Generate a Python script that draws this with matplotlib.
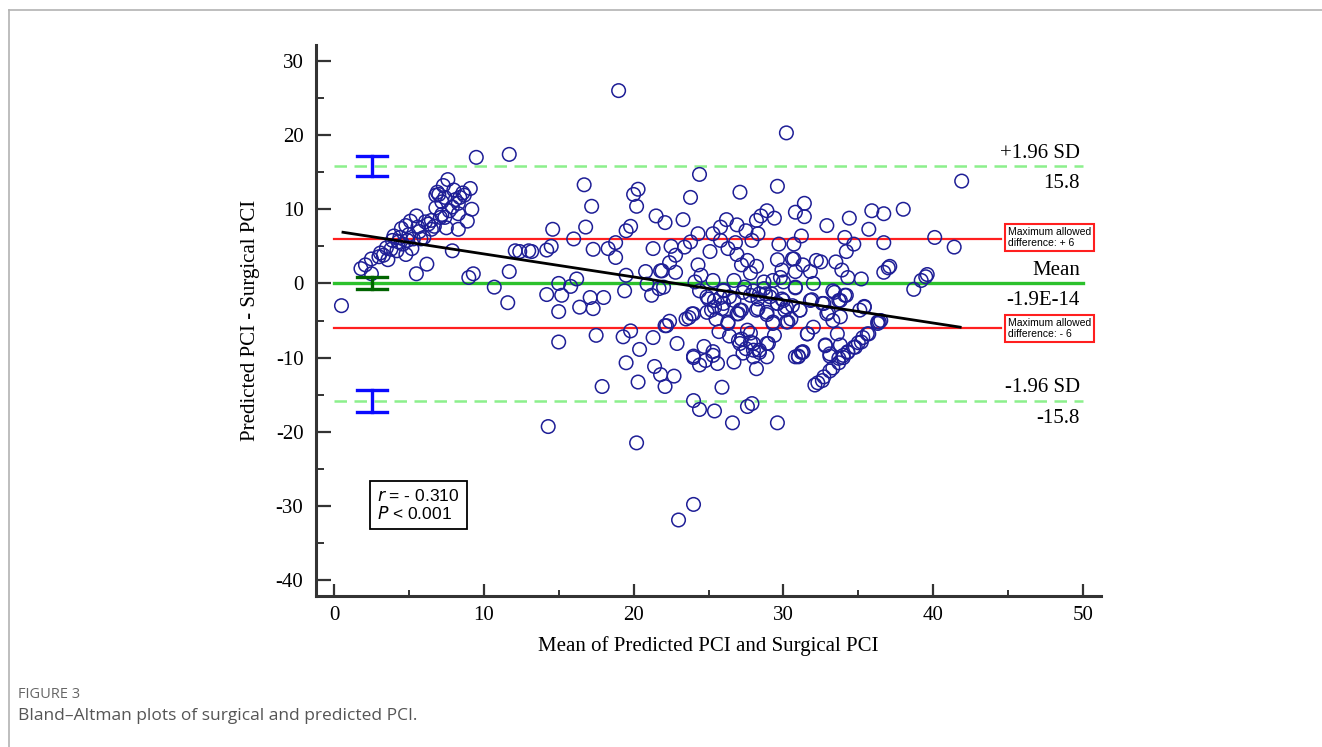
import numpy as np
import matplotlib
matplotlib.use("Agg")
import matplotlib.pyplot as plt
from matplotlib.lines import Line2D

# mean of predicted and surgical PCI (x) and difference predicted - surgical (y)
mean_pci = [
    0.5, 1.8, 2.1, 2.5, 2.5, 3.1, 3.6, 3.5, 3.9, 4.2, 4.4, 4.6, 4.8, 4.8, 5.1, 5.2, 5.5, 5.6, 5.5, 5.8,
    6.1, 6.2, 6.5, 6.7, 6.8, 6.8, 6.9, 7.1, 7.2, 7.4, 7.5, 7.3, 7.6, 7.4, 7.9, 8.0, 7.9, 8.3, 8.3, 8.4,
    8.7, 8.9, 9.1, 9.0, 9.3, 9.5, 10.7, 11.7, 11.7, 11.6, 12.1, 13.0, 4.5, 4.9, 6.5, 7.2, 8.3, 4.0, 5.3, 3.3,
    7.0, 6.0,
    19.0, 30.2, 24.4, 16.7, 29.6, 17.2, 20.0, 20.3, 20.2, 23.8, 27.1, 31.4, 30.8, 31.4, 28.9, 28.5, 28.2, 29.4,
    14.6, 16.8, 16.0, 21.5, 22.1, 23.3, 19.8, 19.5, 24.3, 23.8, 23.4, 25.8, 26.2, 26.9, 27.5, 28.3, 25.8, 26.8,
    27.9, 25.3, 31.2, 29.7, 30.7, 12.4, 13.2, 14.2, 14.5, 17.3, 18.3, 18.8, 18.8, 21.3, 22.5, 22.8, 22.4, 21.9,
    22.8, 25.1, 26.3, 26.9, 27.6, 28.2, 27.2, 27.8, 24.3, 24.5, 29.6, 29.9, 30.6, 30.8, 31.3, 31.8, 32.0, 32.2,
    20.8, 19.5, 15.0, 15.8, 16.2, 14.2, 15.2, 15.0, 16.4, 17.1, 17.3, 18.0, 19.4, 20.9, 21.7, 21.2, 23.7, 24.0,
    22.4, 22.1, 17.5, 19.3, 19.8, 21.3, 22.9, 20.4, 15.0, 24.7, 25.3, 24.0, 27.2, 27.8, 28.0, 28.4, 28.9, 29.4,
    31.3, 31.0, 32.0,
    24.4, 25.0, 25.3, 26.0, 26.7, 25.4, 25.2, 25.5, 26.3, 27.2, 27.0, 28.0, 28.3, 28.9, 29.3, 30.2, 30.0, 30.6,
    31.1, 29.2, 28.8, 29.6, 28.7, 29.3, 26.0, 25.8, 24.9, 26.7, 27.4, 28.4, 30.0, 30.8,
    41.9, 32.9, 34.4, 35.9, 36.7, 38.0, 35.7, 34.1, 34.7, 34.2, 36.7, 40.1, 41.4, 30.7, 32.5, 33.5, 33.9, 34.3,
    35.2, 30.8, 29.8, 36.7, 37.0, 37.1, 38.7, 39.2, 39.5, 39.6, 33.3, 33.8, 34.1, 32.7, 31.9, 31.1, 30.2, 30.5,
    33.0, 35.4, 35.1, 36.4, 36.3, 33.6, 35.7, 35.3, 35.0, 34.7, 34.3, 34.0, 33.7, 32.8, 33.1, 31.6, 31.2, 30.8,
    19.5, 17.9, 14.3, 20.3, 21.4, 21.8, 22.1, 22.7, 24.0, 24.4, 24.8, 25.3, 25.6, 26.7, 25.9, 24.0, 24.4, 25.4,
    27.6, 27.9, 26.6, 29.6, 20.2, 24.0, 23.0, 27.1, 27.5, 28.0, 28.4, 28.9, 28.2, 27.3, 28.0, 29.0, 26.4, 27.0,
    27.8, 31.0, 31.3, 32.8, 33.1, 33.8,
    32.1, 32.3, 32.6, 32.7, 33.1, 33.3, 33.7, 34.0, 34.3, 34.8, 35.2, 35.6, 36.3, 36.5,
    21.8, 22.0, 22.2, 23.5, 23.9, 24.1, 24.9, 25.7, 26.3, 26.9, 27.1, 27.6, 28.2, 28.9, 29.3, 29.9, 30.1, 30.3,
    31.6, 31.8, 32.6, 32.9, 33.3, 33.4, 33.7, 33.8, 34.2, 35.4, 27.3, 27.8, 28.3, 28.7, 29.1, 29.6, 26.0, 25.4,
    25.9, 26.4,
    3.0, 3.8, 4.3, 5.0, 5.7, 6.3, 7.7, 8.1, 8.6, 9.2,
]
diff_pci = [
    -3.0, 2.0, 2.5, 3.3, 1.3, 4.1, 3.2, 4.8, 5.8, 4.4, 6.2, 5.3, 7.8, 3.9, 8.4, 4.7, 9.1, 7.6, 1.3, 6.0,
    8.3, 2.6, 7.3, 7.7, 10.2, 11.9, 12.3, 8.9, 9.3, 8.9, 7.5, 13.2, 14.0, 11.6, 10.3, 12.6, 4.4, 9.4, 7.3, 11.6,
    11.9, 8.4, 12.8, 0.8, 1.3, 17.0, -0.5, 17.4, 1.6, -2.6, 4.4, 4.4, 7.4, 5.8, 8.5, 11.0, 10.8, 6.4, 6.0, 3.8,
    12.0, 6.2,
    26.0, 20.3, 14.7, 13.3, 13.1, 10.4, 12.0, 12.7, 10.4, 11.6, 12.3, 10.8, 9.6, 9.0, 9.8, 9.1, 8.5, 8.8,
    7.3, 7.6, 6.0, 9.1, 8.2, 8.6, 7.7, 7.1, 6.7, 5.6, 4.9, 7.6, 8.6, 7.9, 7.1, 6.7, 5.8, 5.5,
    5.8, 6.7, 6.4, 5.3, 5.3, 4.3, 4.3, 4.5, 5.0, 4.6, 4.7, 5.5, 3.5, 4.7, 5.0, 3.8, 2.8, 1.7,
    1.5, 4.3, 4.7, 3.9, 3.1, 2.3, 2.5, 1.4, 2.5, 1.1, 3.2, 1.8, 3.3, 1.6, 2.5, 1.6, 0.0, 3.1,
    1.6, 1.1, 0.0, -0.4, 0.6, -1.5, -1.6, -3.8, -3.2, -1.9, -3.4, -1.9, -1.0, -0.1, -0.7, -1.6, -4.6, -4.1,
    -5.1, -5.7, -7.0, -7.2, -6.4, -7.3, -8.1, -8.9, -7.9, -8.5, -9.7, -9.8, -7.5, -7.9, -9.0, -9.3, -8.1, -7.0,
    -9.3, -9.8, -5.9,
    -1.0, -2.1, 0.4, -1.0, -2.3, -3.2, -3.6, -4.8, -5.4, -3.6, -4.1, -1.0, -3.4, -4.2, -5.4, -5.2, -2.3, -3.0,
    -3.6, -1.4, -1.4, -2.7, 0.2, 0.4, -2.7, -1.9, -3.9, 0.4, -0.5, -1.4, 0.2, -0.5,
    13.8, 7.8, 8.8, 9.8, 9.4, 10.0, 7.3, 6.2, 5.3, 4.3, 5.5, 6.2, 4.9, 3.3, 2.9, 2.9, 1.8, 0.8,
    0.6, -0.6, 0.8, 1.5, 2.1, 2.3, -0.8, 0.4, 0.9, 1.2, -1.0, -2.3, -1.6, -2.7, -2.2, -3.6, -3.2, -4.8,
    -3.9, -3.1, -3.6, -5.2, -5.4, -6.8, -6.8, -7.3, -8.0, -8.6, -9.3, -9.7, -10.1, -8.4, -9.5, -6.8, -9.3, -9.9,
    -10.7, -13.9, -19.3, -13.3, -11.2, -12.3, -13.9, -12.5, -10.0, -11.0, -10.4, -9.2, -10.8, -10.6, -14.0, -15.8, -17.0, -17.2,
    -16.6, -16.2, -18.8, -18.8, -21.5, -29.8, -31.9, -8.1, -8.8, -8.1, -9.0, -9.9, -11.5, -9.4, -9.9, -8.1, -7.1, -7.7,
    -6.7, -9.9, -9.2, -8.3, -9.8, -8.3,
    -13.7, -13.4, -13.1, -12.6, -11.8, -11.4, -10.7, -10.0, -9.2, -8.6, -7.9, -6.8, -5.2, -5.0,
    1.7, -0.5, -5.7, -4.8, -4.1, 0.2, -1.8, -6.5, -5.2, -4.1, -3.6, -6.3, -3.6, -3.9, -5.2, -2.1, -3.6, -5.2,
    -6.8, -2.3, -2.7, -4.1, -5.0, -1.2, -2.3, -4.5, -1.6, -3.2, -1.2, -1.6, -2.1, -0.7, -1.8, -2.7, -0.9, -2.3,
    -3.4, -1.8,
    3.6, 4.6, 5.6, 6.6, 7.0, 8.0, 9.8, 11.3, 12.2, 10.0,
]

mean_diff = -1.9e-14
sd_upper = 15.8
sd_lower = -15.8
max_allowed = 6
# regression of difference on mean (end points of the fitted line)
reg_x = [0.6, 41.8]
reg_y = [6.9, -5.9]
# confidence intervals of the limits, drawn at x = 2.55
ci_upper = [14.5, 17.2]
ci_mean = [-0.7, 0.9]
ci_lower = [-17.3, -14.4]

plt.rcParams['font.family'] = ['Liberation Serif', 'DejaVu Serif']
plt.rcParams['axes.unicode_minus'] = False

fig = plt.figure(figsize=(13.22, 7.47), dpi=100)
ax = fig.add_axes([316 / 1322, 151 / 747, 785 / 1322, 551 / 747])

# card border
fig.add_artist(Line2D([9 / 1322, 1.0], [1 - 10 / 747, 1 - 10 / 747], color='#b3b3b3', lw=1.2))
fig.add_artist(Line2D([9 / 1322, 9 / 1322], [0, 1 - 10 / 747], color='#b3b3b3', lw=1.2))

# limit lines
ax.plot([0, 50], [sd_upper, sd_upper], color='#8cf08c', lw=1.8, ls=(0, (5, 3)), zorder=2)
ax.plot([0, 50], [sd_lower, sd_lower], color='#8cf08c', lw=1.8, ls=(0, (5, 3)), zorder=2)
ax.plot([0, 50], [mean_diff, mean_diff], color='#2cc12c', lw=2.4, zorder=2)
ax.plot([0, 44.5], [max_allowed, max_allowed], color='#ff1f1f', lw=1.6, zorder=2)
ax.plot([0, 44.5], [-max_allowed, -max_allowed], color='#ff1f1f', lw=1.6, zorder=2)

ax.scatter(mean_pci, diff_pci, s=95, facecolors='none', edgecolors='#1e1e96',
           linewidths=1.1, zorder=3)

ax.plot(reg_x, reg_y, color='black', lw=2.0, zorder=4)

# CI bars
for ci, col in [(ci_upper, '#0a0aff'), (ci_mean, '#006400'), (ci_lower, '#0a0aff')]:
    ax.plot([2.55, 2.55], ci, color=col, lw=2.4, zorder=4)
    for v in ci:
        ax.plot([1.55, 3.55], [v, v], color=col, lw=2.4, zorder=4)

# labels at right
fs = 15
ax.text(49.8, 17.5, '+1.96 SD', ha='right', va='center', fontsize=fs)
ax.text(49.8, 13.5, '15.8', ha='right', va='center', fontsize=fs)
ax.text(49.8, 1.75, 'Mean', ha='right', va='center', fontsize=fs)
ax.text(49.8, -2.3, '-1.9E-14', ha='right', va='center', fontsize=fs)
ax.text(49.8, -14.0, '-1.96 SD', ha='right', va='center', fontsize=fs)
ax.text(49.8, -18.2, '-15.8', ha='right', va='center', fontsize=fs)

box = dict(boxstyle='square,pad=0.3', facecolor='white', edgecolor='#ff1f1f', lw=1.5)
ax.text(45.0, 6.2, 'Maximum allowed\ndifference: + 6', ha='left', va='center', fontsize=7.5,
        family=['Liberation Sans', 'DejaVu Sans'], bbox=box, linespacing=1.1)
ax.text(45.0, -6.1, 'Maximum allowed\ndifference: - 6', ha='left', va='center', fontsize=7.5,
        family=['Liberation Sans', 'DejaVu Sans'], bbox=box, linespacing=1.1)

ax.text(2.9, -29.9, '$\\it{r}$ = - 0.310\n$\\it{P}$ < 0.001', ha='left', va='center', fontsize=12.5,
        family=['Liberation Sans', 'DejaVu Sans'], linespacing=1.1,
        bbox=dict(boxstyle='square,pad=0.4', facecolor='white', edgecolor='black', lw=1.3))

ax.set_xlim(-1.2, 51.2)
ax.set_ylim(-42.15, 32.15)
ax.set_xticks(np.arange(0, 51, 10))
ax.set_xticks(np.arange(5, 50, 10), minor=True)
ax.set_yticks(np.arange(-40, 31, 10))
ax.set_yticks(np.arange(-35, 30, 10), minor=True)
for s in ['top', 'right']:
    ax.spines[s].set_visible(False)
for s in ['left', 'bottom']:
    ax.spines[s].set_linewidth(2.2)
    ax.spines[s].set_color('#333333')
ax.tick_params(axis='x', which='major', direction='in', length=9, width=1.6, color='#333333',
               labelsize=15, pad=7)
ax.tick_params(axis='x', which='minor', direction='in', length=4, width=1.4, color='#333333')
ax.tick_params(axis='y', which='major', direction='in', length=11, width=1.6, color='#333333',
               labelsize=15, pad=9)
ax.tick_params(axis='y', which='minor', direction='in', length=6, width=1.4, color='#333333')

ax.set_xlabel('Mean of Predicted PCI and Surgical PCI', fontsize=15, labelpad=8)
ax.set_ylabel('Predicted PCI - Surgical PCI', fontsize=15, labelpad=11)

# caption
fig.text(18 / 1322, 1 - 695 / 747, 'FIGURE 3', fontsize=10.5, color='#666666', va='center',
         family=['Open Sans', 'DejaVu Sans'])
fig.text(18 / 1322, 1 - 716 / 747, 'Bland\u2013Altman plots of surgical and predicted PCI.',
         fontsize=12.5, color='#555555', va='center', family=['Open Sans', 'DejaVu Sans'])

fig.savefig('out.png', dpi=100)
